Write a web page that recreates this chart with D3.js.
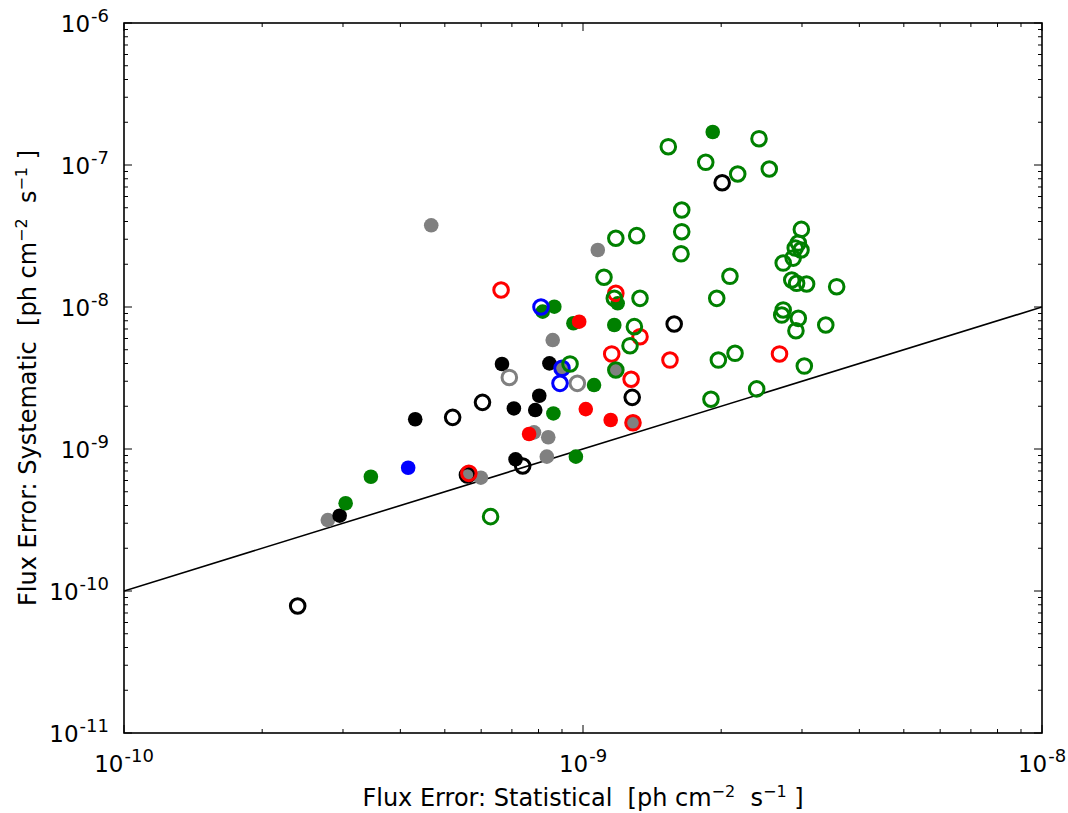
<!DOCTYPE html>
<html><head><meta charset="utf-8">
<script src="https://cdn.jsdelivr.net/npm/d3@7"></script>
<style>body{margin:0;background:#fff}svg{display:block}text{font-family:"DejaVu Sans",sans-serif;fill:#000}</style>
</head><body>
<script>
// ---- data: [statistical error, systematic error] in ph cm^-2 s^-1 ----
const grayFilled = [[2.78e-10,3.16e-10],[4.67e-10,3.76e-8],[5.64e-10,6.74e-10],[5.99e-10,6.28e-10],[7.82e-10,1.31e-9],[8.34e-10,8.83e-10],[8.40e-10,1.21e-9],[8.59e-10,5.85e-9],[9.00e-10,3.70e-9],[1.077e-9,2.52e-8],[1.179e-9,3.60e-9],[1.285e-9,1.53e-9]];
const blackFilled = [[2.95e-10,3.39e-10],[4.31e-10,1.62e-9],[6.66e-10,3.97e-9],[7.07e-10,1.93e-9],[7.13e-10,8.46e-10],[7.87e-10,1.88e-9],[8.03e-10,2.37e-9],[8.45e-10,4.01e-9]];
const blueFilled = [[4.16e-10,7.38e-10]];
const greenFilled = [[3.04e-10,4.15e-10],[3.45e-10,6.38e-10],[8.17e-10,9.27e-9],[8.62e-10,1.78e-9],[8.66e-10,1.005e-8],[9.53e-10,7.68e-9],[9.65e-10,8.83e-10],[1.057e-9,2.82e-9],[1.17e-9,7.47e-9],[1.19e-9,1.062e-8],[1.917e-9,1.708e-7]];
const redFilled = [[7.63e-10,1.275e-9],[9.81e-10,7.88e-9],[1.014e-9,1.91e-9],[1.149e-9,1.60e-9]];

const grayOpen = [[6.91e-10,3.19e-9],[9.72e-10,2.90e-9]];
const blackOpen = [[2.39e-10,7.84e-11],[5.20e-10,1.67e-9],[5.60e-10,6.56e-10],[6.04e-10,2.13e-9],[7.39e-10,7.59e-10],[1.28e-9,2.31e-9],[1.58e-9,7.59e-9],[2.01e-9,7.50e-8]];
const blueOpen = [[8.10e-10,1.0e-8],[9.00e-10,3.70e-9],[8.91e-10,2.90e-9]];
const redOpen = [[5.64e-10,6.74e-10],[6.63e-10,1.317e-8],[1.155e-9,4.67e-9],[1.179e-9,1.248e-8],[1.273e-9,3.10e-9],[1.285e-9,1.53e-9],[1.331e-9,6.18e-9],[1.547e-9,4.23e-9],[2.68e-9,4.67e-9]];
const greenOpen = [[6.29e-10,3.34e-10],[9.37e-10,3.97e-9],[1.111e-9,1.62e-8],[1.17e-9,1.151e-8],[1.179e-9,3.05e-8],[1.179e-9,3.60e-9],[1.266e-9,5.34e-9],[1.294e-9,7.27e-9],[1.309e-9,3.18e-8],[1.331e-9,1.151e-8],[1.534e-9,1.345e-7],[1.641e-9,4.82e-8],[1.641e-9,3.39e-8],[1.635e-9,2.37e-8],[1.851e-9,1.045e-7],[1.90e-9,2.24e-9],[1.956e-9,1.151e-8],[1.972e-9,4.23e-9],[2.09e-9,1.645e-8],[2.144e-9,4.72e-9],[2.173e-9,8.64e-8],[2.39e-9,2.65e-9],[2.418e-9,1.532e-7],[2.546e-9,9.37e-8],[2.73e-9,2.04e-8],[2.73e-9,9.53e-9],[2.71e-9,8.78e-9],[2.85e-9,1.549e-8],[2.87e-9,2.21e-8],[2.90e-9,2.60e-8],[2.945e-9,2.82e-8],[2.985e-9,2.52e-8],[2.99e-9,3.52e-8],[2.92e-9,1.468e-8],[3.07e-9,1.452e-8],[2.945e-9,8.32e-9],[2.91e-9,6.81e-9],[3.035e-9,3.84e-9],[3.38e-9,7.47e-9],[3.57e-9,1.39e-8]];

const xDomain = [1e-10, 1e-8];
const yDomain = [1e-11, 1e-6];
const xTickExps = [-10, -9, -8];
const yTickExps = [-11, -10, -9, -8, -7, -6];
const onetoone = [1e-10, 1e-8];

const W = 1068, H = 813;
const m = {l:124, r:1042, t:23, b:733};
const svg = d3.select("body").append("svg").attr("width", W).attr("height", H);
const x = d3.scaleLog().domain(xDomain).range([m.l, m.r]);
const y = d3.scaleLog().domain(yDomain).range([m.b, m.t]);

// minor ticks
function minors(dom){ const out=[]; const a=Math.round(Math.log10(dom[0])), b=Math.round(Math.log10(dom[1]));
  for(let e=a;e<b;e++) for(let k=2;k<=9;k++) out.push(k*Math.pow(10,e)); return out; }
const g = svg.append("g");
const ticks = g.append("g").attr("stroke","#000").attr("stroke-width",1);
minors(xDomain).forEach(v=>{ const px=x(v);
  ticks.append("line").attr("x1",px).attr("x2",px).attr("y1",m.b).attr("y2",m.b-4);
  ticks.append("line").attr("x1",px).attr("x2",px).attr("y1",m.t).attr("y2",m.t+4); });
xTickExps.forEach(e=>{ const px=x(Math.pow(10,e));
  ticks.append("line").attr("x1",px).attr("x2",px).attr("y1",m.b).attr("y2",m.b-8);
  ticks.append("line").attr("x1",px).attr("x2",px).attr("y1",m.t).attr("y2",m.t+8); });
minors(yDomain).forEach(v=>{ const py=y(v);
  ticks.append("line").attr("y1",py).attr("y2",py).attr("x1",m.l).attr("x2",m.l+4);
  ticks.append("line").attr("y1",py).attr("y2",py).attr("x1",m.r).attr("x2",m.r-4); });
yTickExps.forEach(e=>{ const py=y(Math.pow(10,e));
  ticks.append("line").attr("y1",py).attr("y2",py).attr("x1",m.l).attr("x2",m.l+8);
  ticks.append("line").attr("y1",py).attr("y2",py).attr("x1",m.r).attr("x2",m.r-8); });

// tick labels
xTickExps.forEach(e=>{
  const t = svg.append("text").attr("x", x(Math.pow(10,e))).attr("y", 772).attr("text-anchor","middle").attr("font-size",23);
  t.append("tspan").text("10");
  t.append("tspan").attr("font-size",18).attr("dx",1).attr("dy",-10).text(String(e));
});
yTickExps.forEach(e=>{
  const t = svg.append("text").attr("x", 109).attr("y", y(Math.pow(10,e))+8.5).attr("text-anchor","end").attr("font-size",23);
  t.append("tspan").text("10");
  t.append("tspan").attr("font-size",18).attr("dx",1).attr("dy",-10).text(String(e));
});

// axis titles
function title(sel, main){
  sel.append("tspan").text(main + "\u00a0\u00a0[ph cm");
  sel.append("tspan").attr("font-size",16).attr("dy",-9).text("\u22122");
  sel.append("tspan").attr("dy",9).text("\u00a0\u00a0s");
  sel.append("tspan").attr("font-size",16).attr("dy",-9).text("\u22121");
  sel.append("tspan").attr("dy",9).text("\u00a0]");
}
title(svg.append("text").attr("x", (m.l+m.r)/2).attr("y", 806).attr("text-anchor","middle").attr("font-size",24), "Flux Error: Statistical");
title(svg.append("text").attr("transform", `translate(36,${(m.t+m.b)/2}) rotate(-90)`).attr("text-anchor","middle").attr("font-size",24), "Flux Error: Systematic");

// clip
svg.append("clipPath").attr("id","clip").append("rect").attr("x",m.l).attr("y",m.t).attr("width",m.r-m.l).attr("height",m.b-m.t);
const plot = svg.append("g").attr("clip-path","url(#clip)");

// 1:1 line
plot.append("line").attr("x1",x(onetoone[0])).attr("y1",y(onetoone[0])).attr("x2",x(onetoone[1])).attr("y2",y(onetoone[1]))
  .attr("stroke","#000").attr("stroke-width",1.6);

function filled(data,color){ plot.append("g").selectAll("circle").data(data).join("circle")
  .attr("cx",d=>x(d[0])).attr("cy",d=>y(d[1])).attr("r",7.3).attr("fill",color); }
function open(data,color){ plot.append("g").selectAll("circle").data(data).join("circle")
  .attr("cx",d=>x(d[0])).attr("cy",d=>y(d[1])).attr("r",7.3).attr("fill","none").attr("stroke",color).attr("stroke-width",3); }
filled(grayFilled,"#808080");
filled(blackFilled,"#000000");
filled(blueFilled,"#0000ff");
filled(greenFilled,"#008000");
filled(redFilled,"#ff0000");
open(grayOpen,"#808080");
open(blackOpen,"#000000");
open(blueOpen,"#0000ff");
open(redOpen,"#ff0000");
open(greenOpen,"#008000");

// frame
svg.append("rect").attr("x",m.l).attr("y",m.t).attr("width",m.r-m.l).attr("height",m.b-m.t)
  .attr("fill","none").attr("stroke","#000").attr("stroke-width",1.6);
</script>
</body></html>
